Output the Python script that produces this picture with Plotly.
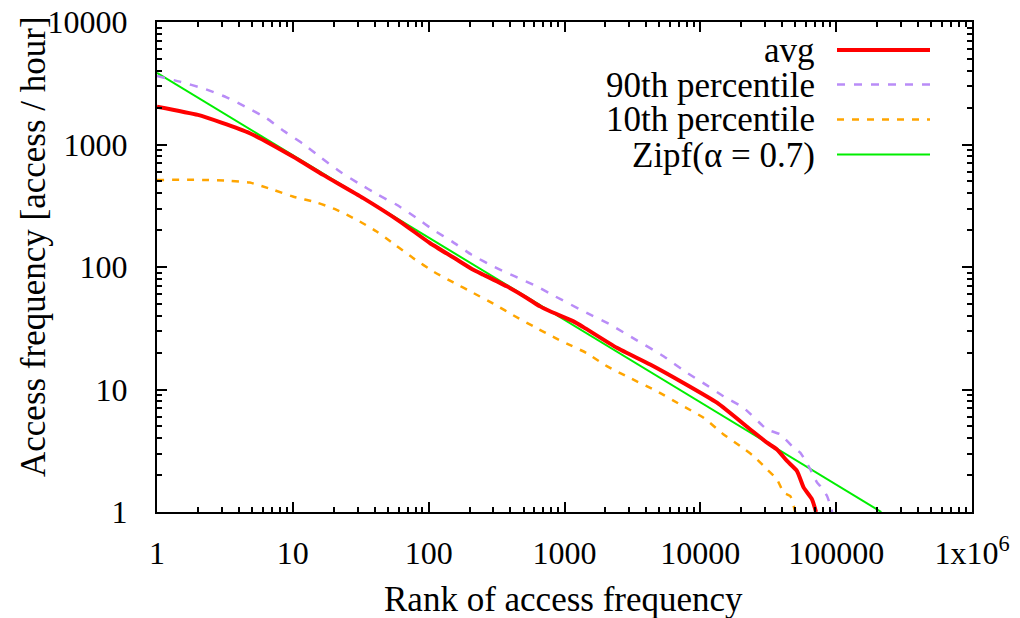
import plotly.graph_objects as go

# ---- data ----
avg_x = [1, 2.0, 2.98, 4.82, 10, 16.7, 33, 61.5, 102, 161, 213, 253, 376, 528, 661, 783,
         1164, 1377, 2428, 4276, 7516, 13250, 23330, 30970, 36660, 43460, 51500, 57700,
         66400, 71100]
avg_y = [2037, 1743, 1508, 1236, 797, 565, 365, 235, 157, 115, 95, 86.5, 69.5, 55.9, 47.7, 43.5,
         36.0, 32.3, 21.9, 16.0, 11.3, 7.8, 4.72, 3.68, 3.24, 2.61, 2.16, 1.58,
         1.27, 1.0]

p90_x = [1, 1.47, 2.18, 3.25, 4.56, 6.4, 8.73, 11.9, 16.3, 22.2, 30.3, 42.5, 58.1, 81.6, 108,
         148, 207, 299, 432, 625, 853, 1460, 2170, 3410, 5360, 7960, 11190, 14840, 20800,
         31000, 38800, 48600, 54400, 64500, 72300, 76400, 85700, 93500]
p90_y = [3622, 3258, 2877, 2429, 2014, 1638, 1274, 1011, 773, 601, 484, 388, 322, 251, 201,
         162, 126, 101, 83.8, 69.5, 57.6, 42.2, 33.9, 25.2, 18.7, 13.7, 10.8, 8.8, 7.1,
         4.72, 4.30, 3.35, 3.05, 2.23, 1.74, 1.63, 1.35, 1.0]

p10_x = [1, 2.18, 3.43, 4.82, 7.16, 10, 15, 21, 29.5, 41.4, 56.5, 77.1, 108, 152, 213, 308,
         432, 590, 853, 1040, 1459, 2050, 3040, 4790, 7110, 10570, 14840, 19670, 24660,
         31000, 36650, 41050, 45950, 48600, 50000]
p10_y = [514, 514, 505, 489, 427, 376, 336, 293, 243, 195, 152, 118, 92, 74.8, 61.4, 49.3,
         39.6, 32.8, 26.4, 23.7, 19.8, 15.5, 12.4, 9.68, 7.55, 5.88, 4.30, 3.45, 2.86,
         2.23, 1.85, 1.44, 1.35, 1.12, 1.0]

zipf_x = [1, 215000]
zipf_y = [3840, 1]

x_tickvals = [1, 10, 100, 1000, 10000, 100000, 1000000]
x_ticktext = ["1", "10", "100", "1000", "10000", "100000", "1x10<sup>6</sup>"]
y_tickvals = [1, 10, 100, 1000, 10000]
y_ticktext = ["1", "10", "100", "1000", "10000"]

names = ["avg", "90th percentile", "10th percentile", "Zipf(\u03b1 = 0.7)"]
colors = ["#ff0000", "#b98cf7", "#ffa500", "#00ee00"]
widths = [4, 2.5, 2.5, 2]
dashes = ["solid", "8px,9px", "7px,8px", "solid"]
shapes_ = ["spline", "spline", "spline", "linear"]

FONT = "Liberation Serif"

fig = go.Figure()
series = [(avg_x, avg_y), (p90_x, p90_y), (p10_x, p10_y), (zipf_x, zipf_y)]
order = [3, 1, 2, 0]  # draw avg on top
for i in order:
    xs, ys = series[i]
    line = dict(color=colors[i], width=widths[i], dash=dashes[i], shape=shapes_[i])
    if shapes_[i] == "spline":
        line["smoothing"] = 0.5
    fig.add_trace(go.Scatter(x=xs, y=ys, mode="lines", name=names[i], showlegend=False,
                             line=line))

x_minor = [m * 10 ** k for k in range(0, 6) for m in range(2, 10)]
y_minor = [m * 10 ** k for k in range(0, 4) for m in range(2, 10)]

axis_common = dict(showline=True, linecolor="black", linewidth=2, mirror="ticks",
                   ticks="inside", ticklen=10, tickwidth=1.5, tickcolor="black",
                   showgrid=False, zeroline=False, automargin=False,
                   tickfont=dict(family=FONT, size=32, color="black"))

fig.update_xaxes(type="log", range=[0, 6], tickmode="array", tickvals=x_tickvals,
                 ticktext=x_ticktext, ticklabelstandoff=12,
                 minor=dict(tickmode="array", tickvals=x_minor, ticks="inside", ticklen=5,
                            tickwidth=1.5, tickcolor="black", showgrid=False),
                 **axis_common)
fig.update_yaxes(type="log", range=[0, 4], tickmode="array", tickvals=y_tickvals,
                 ticktext=y_ticktext, ticklabelstandoff=21,
                 minor=dict(tickmode="array", tickvals=y_minor, ticks="inside", ticklen=5,
                            tickwidth=1.5, tickcolor="black", showgrid=False),
                 **axis_common)

# legend drawn gnuplot style: text right-aligned, sample line to the right
L, R, T, B = 157, 48, 22, 106
W, H = 1020 - L - R, 618 - T - B
def px(xp):
    return (xp - L) / W
def py(yp):
    return (618 - B - yp) / H

row_y = [50, 84.5, 119.5, 154.5]
annotations = []
shapes = []
for i, name in enumerate(names):
    annotations.append(dict(xref="paper", yref="paper", x=px(817), y=py(row_y[i] + 0.5),
                            xanchor="right", yanchor="middle", showarrow=False, text=name,
                            font=dict(family=FONT, size=35, color="black")))
    shapes.append(dict(type="line", xref="paper", yref="paper", x0=px(837), x1=px(930),
                       y0=py(row_y[i]), y1=py(row_y[i]),
                       line=dict(color=colors[i], width=widths[i], dash=dashes[i])))

annotations.append(dict(xref="paper", yref="paper", x=px(563), y=py(599), xanchor="center",
                        yanchor="middle", showarrow=False, text="Rank of access frequency",
                        font=dict(family=FONT, size=35, color="black")))
annotations.append(dict(xref="paper", yref="paper", x=px(34), y=py(247), xanchor="center",
                        yanchor="middle", showarrow=False, textangle=-90,
                        text="Access frequency [access / hour]",
                        font=dict(family=FONT, size=35, color="black")))

fig.update_layout(width=1020, height=618, margin=dict(l=L, r=R, t=T, b=B, autoexpand=False),
                  paper_bgcolor="white", plot_bgcolor="white",
                  annotations=annotations, shapes=shapes, showlegend=False,
                  font=dict(family=FONT, color="black"))

fig.write_html("out.html")
